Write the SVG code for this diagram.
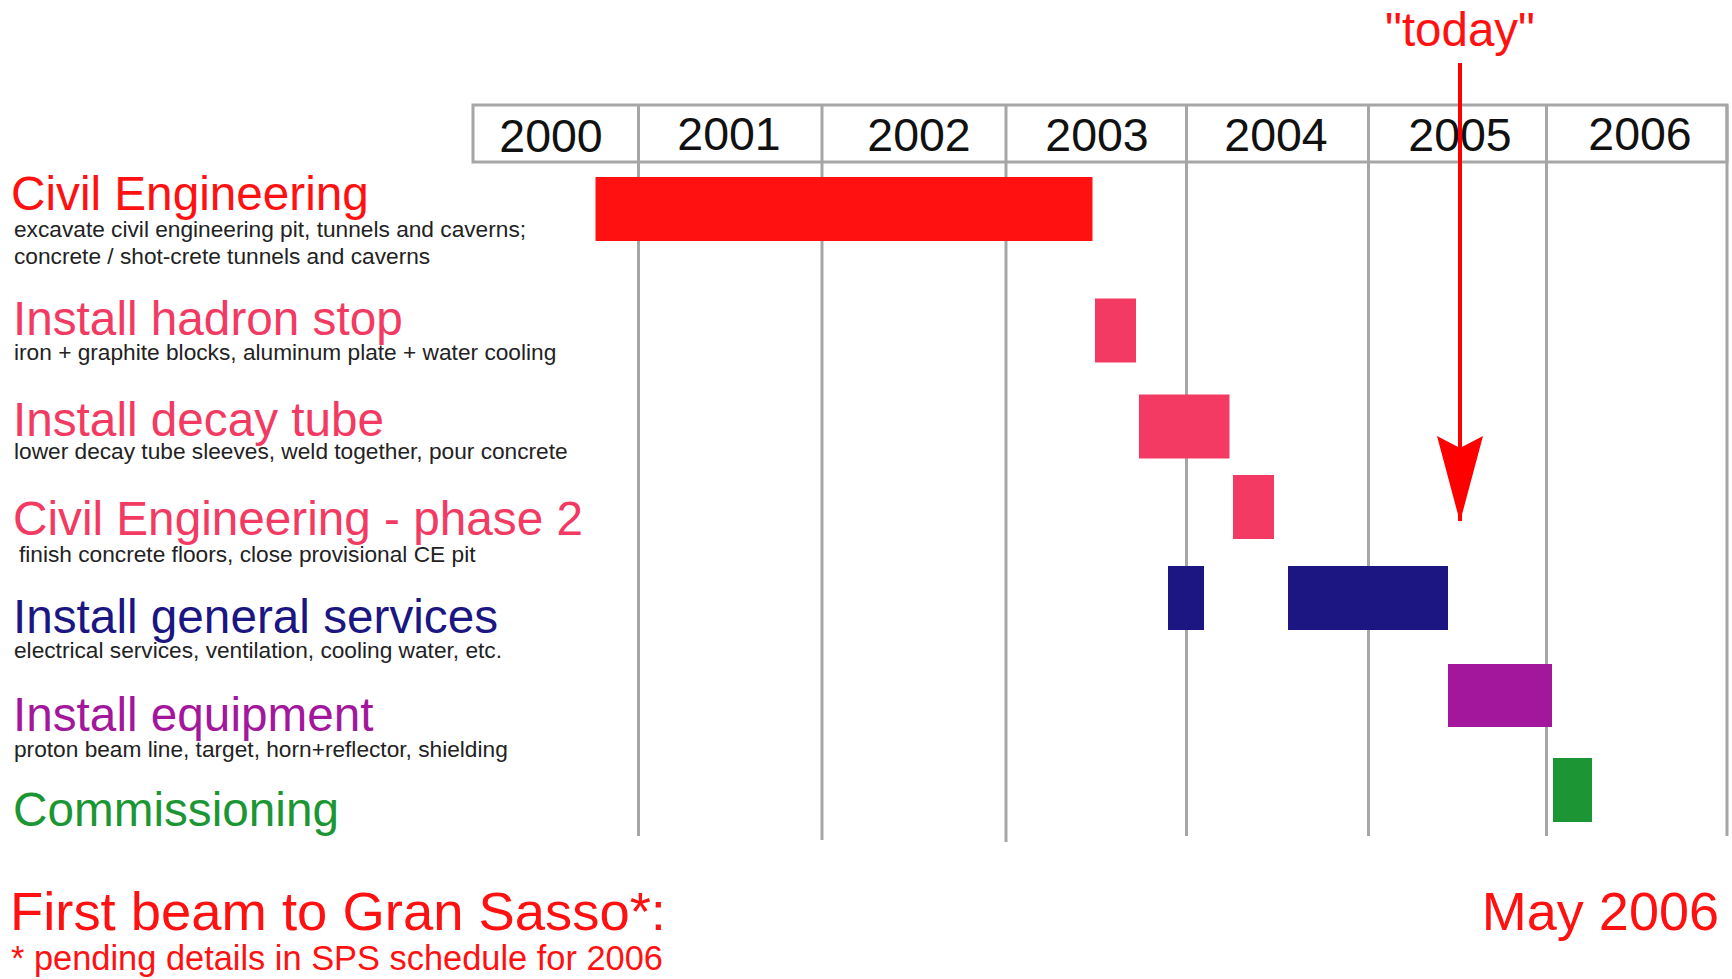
<svg xmlns="http://www.w3.org/2000/svg" width="1732" height="979" viewBox="0 0 1732 979">
  <style>
    text { font-family: "Liberation Sans", Arial, sans-serif; }
    .title { font-size: 47.7px; }
    .sub { font-size: 22.7px; fill: #222222; }
    .year { font-size: 46.5px; fill: #111111; text-anchor: middle; }
    .grid { stroke: #a6a6a6; stroke-width: 3; fill: none; }
    .red { fill: #ff1111; }
    .pink { fill: #f23a62; }
    .navy { fill: #1b1682; }
    .purple { fill: #a3179c; }
    .green { fill: #1c9634; }
  </style>
  <defs>
    <!-- notched arrowhead; tip sits on the end of the line -->
    <marker id="arrowHead" viewBox="0 0 86 46" refX="85" refY="23" markerWidth="86" markerHeight="46" markerUnits="userSpaceOnUse" orient="auto">
      <path d="M0,0 L12,23 L0,46 L86,23 Z" fill="#ff0000"/>
    </marker>
  </defs>
  <rect width="1732" height="979" fill="#ffffff"/>

  <!-- year header and grid lines -->
  <g id="timeline">
    <rect x="473" y="105" width="1254" height="57" fill="#ffffff" stroke="#a6a6a6" stroke-width="3"/>
    <line class="grid" x1="638.5" y1="105" x2="638.5" y2="836"/>
    <line class="grid" x1="822" y1="105" x2="822" y2="840"/>
    <line class="grid" x1="1006" y1="105" x2="1006" y2="842"/>
    <line class="grid" x1="1186.5" y1="105" x2="1186.5" y2="836"/>
    <line class="grid" x1="1368.5" y1="105" x2="1368.5" y2="836"/>
    <line class="grid" x1="1546.5" y1="105" x2="1546.5" y2="836"/>
    <line class="grid" x1="1727" y1="105" x2="1727" y2="836"/>
    <text class="year" x="551" y="152">2000</text>
    <text class="year" x="729" y="150">2001</text>
    <text class="year" x="919" y="151">2002</text>
    <text class="year" x="1097" y="151">2003</text>
    <text class="year" x="1276" y="151">2004</text>
    <text class="year" x="1460" y="151">2005</text>
    <text class="year" x="1640" y="150">2006</text>
  </g>

  <!-- tasks -->
  <g id="civil-engineering">
    <rect class="red" x="595.5" y="177" width="497" height="64"/>
    <text class="title red" x="11" y="210">Civil Engineering</text>
    <text class="sub" x="14" y="237">excavate civil engineering pit, tunnels and caverns;</text>
    <text class="sub" x="14" y="264">concrete / shot-crete tunnels and caverns</text>
  </g>

  <g id="hadron-stop">
    <rect class="pink" x="1095" y="298.5" width="41" height="64"/>
    <text class="title pink" x="13" y="335">Install hadron stop</text>
    <text class="sub" x="14" y="360">iron + graphite blocks, aluminum plate + water cooling</text>
  </g>

  <g id="decay-tube">
    <rect class="pink" x="1139" y="394.5" width="90.5" height="64"/>
    <text class="title pink" x="13" y="436">Install decay tube</text>
    <text class="sub" x="14" y="459">lower decay tube sleeves, weld together, pour concrete</text>
  </g>

  <g id="civil-engineering-2">
    <rect class="pink" x="1233" y="475" width="41" height="64"/>
    <text class="title pink" x="13" y="535">Civil Engineering - phase 2</text>
    <text class="sub" x="19" y="562">finish concrete floors, close provisional CE pit</text>
  </g>

  <g id="general-services">
    <rect class="navy" x="1168" y="566" width="36" height="64"/>
    <rect class="navy" x="1288" y="566" width="160" height="64"/>
    <text class="title navy" x="13" y="633">Install general services</text>
    <text class="sub" x="14" y="658">electrical services, ventilation, cooling water, etc.</text>
  </g>

  <g id="equipment">
    <rect class="purple" x="1448" y="664" width="104" height="63"/>
    <text class="title purple" x="13" y="731">Install equipment</text>
    <text class="sub" x="14" y="757">proton beam line, target, horn+reflector, shielding</text>
  </g>

  <g id="commissioning">
    <rect class="green" x="1553" y="758" width="39" height="64"/>
    <text class="title green" x="13" y="826">Commissioning</text>
  </g>

  <g id="first-beam">
    <text x="10" y="930" font-size="54.4" fill="#ff1111">First beam to Gran Sasso*:</text>
    <text x="11" y="970" font-size="34.4" fill="#ff1111">* pending details in SPS schedule for 2006</text>
    <text x="1719" y="930" font-size="54" fill="#ff1111" text-anchor="end">May 2006</text>
  </g>

  <g id="today">
    <text x="1460" y="46" font-size="47.5" fill="#ff1111" text-anchor="middle">"today"</text>
  </g>

  <!-- connectors -->
  <g id="connectors">
    <line x1="1460" y1="63" x2="1460" y2="521" stroke="#ff0000" stroke-width="4" marker-end="url(#arrowHead)"/>
  </g>
</svg>
